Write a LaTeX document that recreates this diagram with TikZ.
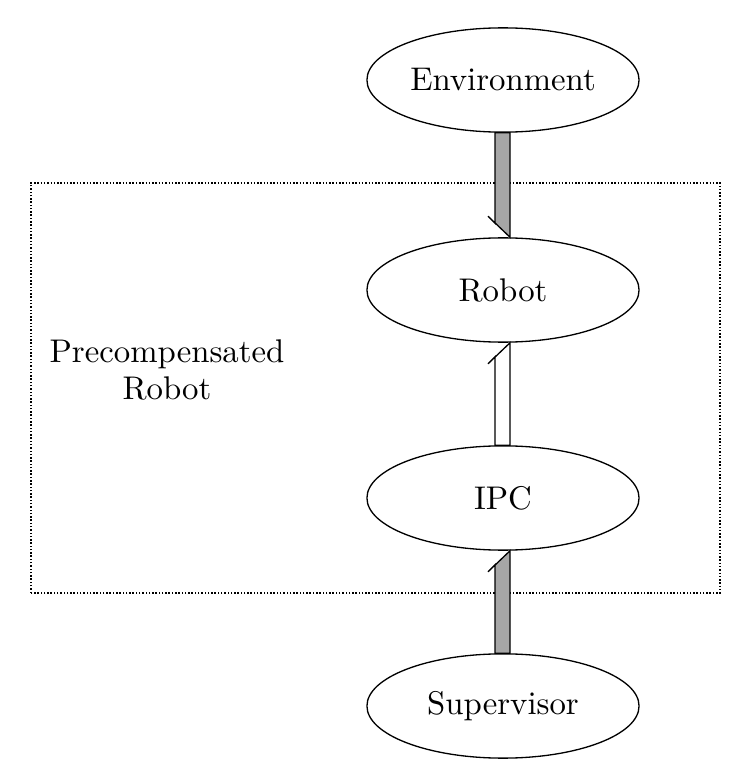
\documentclass[tikz,border=0pt]{standalone}
\usetikzlibrary{shapes.geometric,calc}
\tikzset{
  block/.style = {draw, ellipse, inner sep = 0pt, minimum width = 83pt, minimum height = 31.8pt},
  group/.style = {draw, line width = 0.4pt, dash pattern = on 0.45pt off 0.55pt}
}
\begin{document}
\begin{tikzpicture}[x = 0.305pt, y = 0.305pt]
\useasboundingbox (0,0) rectangle (755,783);
% the dotted frame round robot and precompensator
\draw [group] (31,190) rectangle (720,600);
\node [align = center] (label) at (167,413) {Precompensated\\[-1pt]Robot};
\node [block] (env)   at (503,703) {Environment};
\node [block] (robot) at (503,493) {Robot};
\node [block] (ipc)   at (503,285) {IPC};
\node [block] (sup)   at (503,77)  {Supervisor};
% half-headed double arrows
\foreach \from/\to/\s/\fillc in {env.south/robot.north/1/black!35, ipc.north/robot.south/-1/white, sup.north/ipc.south/-1/black!35}
  \draw [fill = \fillc] ($(\from)+(-8,0)$) -- ($(\to)+(-8,{\s*14})$) -- ($(\to)+(-15,{\s*21})$) -- ($(\to)+(7,0)$) -- ($(\from)+(7,0)$) -- cycle;
\end{tikzpicture}
\end{document}
